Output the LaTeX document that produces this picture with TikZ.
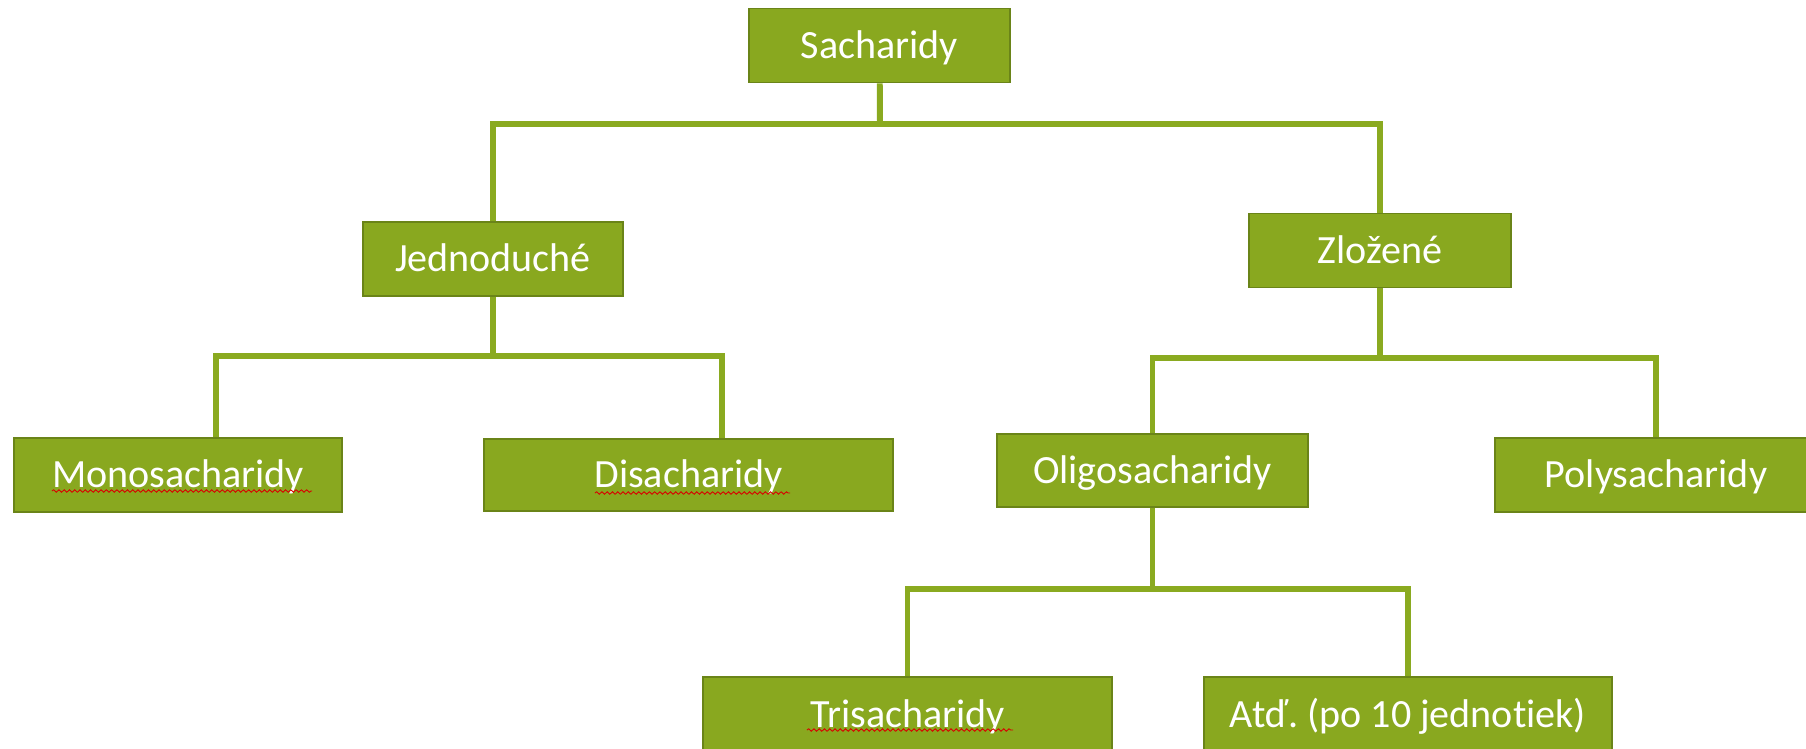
\documentclass[tikz,border=0pt]{standalone}
\usepackage{fontspec}
\setmainfont{Carlito}[Ligatures=NoCommon]
\usetikzlibrary{decorations.pathmorphing}
\definecolor{boxfill}{RGB}{137,168,31}
\definecolor{boxline}{RGB}{106,132,24}
\definecolor{linkgreen}{RGB}{138,170,32}
\frenchspacing
\begin{document}
\begin{tikzpicture}[x=0.02cm, y=-0.02cm,
    every node/.style = {shape=rectangle,
      draw=boxline, fill=boxfill, line width=1.1pt,
      text=white, font=\fontsize{22.8}{27}\selectfont,
      text height=14.7pt, text depth=0pt, inner sep=0pt,
      minimum height=1.48cm},
    link/.style = {draw=linkgreen, line width=3.4pt},
    spellline/.style = {draw=red!85!black, line width=0.5pt,
      decorate, decoration={snake, amplitude=0.7pt, segment length=3pt}}]
    \useasboundingbox (0,0) rectangle (1806,748);
    \clip (0,0) rectangle (1806,748);
    % boxes
    \node[minimum width=5.22cm] (sach) at (879.5,45.5) {Sacharidy};
    \node[minimum width=5.2cm] (jedn) at (493,259) {Jednoduché};
    \node[minimum width=5.24cm] (zloz) at (1380,250.5) {Zložené};
    \node[minimum width=6.56cm] (mono) at (178,475) {Monosacharidy};
    \node[minimum width=8.18cm, minimum height=1.44cm] (disa) at (688.5,475) {Disacharidy};
    \node[minimum width=6.22cm, minimum height=1.46cm] (oligo) at (1152.5,470.5) {Oligosacharidy};
    \node[minimum width=6.44cm] (poly) at (1656,475) {Polysacharidy};
    \node[minimum width=8.18cm, minimum height=1.5cm] (tri) at (907.5,714.5) {Trisacharidy};
    \node[minimum width=8.16cm, minimum height=1.5cm] (atd) at (1408,714.5) {Atď. (po 10 jednotiek)};
    % connectors
    \coordinate (top) at (880,124);
    \coordinate (jbar) at (493,356);
    \coordinate (zbar) at (1380,358);
    \coordinate (obar) at (1152.5,589);
    \draw[link] (sach) -- (top);
    \draw[link] (jedn) |- (top) -| (zloz);
    \draw[link] (jedn) -- (jbar);
    \draw[link] ([xshift=0.76cm]mono.north) |- (jbar) -| ([xshift=0.67cm]disa.north);
    \draw[link] (zloz) -- (zbar);
    \draw[link] (oligo) |- (zbar) -| (poly);
    \draw[link] (oligo) -- (obar);
    \draw[link] (tri) |- (obar) -| (atd);
    % spell check marks
    \draw[spellline] ([shift={(-126,16)}]mono.center) -- ++(260,0);
    \draw[spellline] ([shift={(-93.5,18)}]disa.center) -- ++(195,0);
    \draw[spellline] ([shift={(-100.5,15.5)}]tri.center) -- ++(206,0);
\end{tikzpicture}
\end{document}
